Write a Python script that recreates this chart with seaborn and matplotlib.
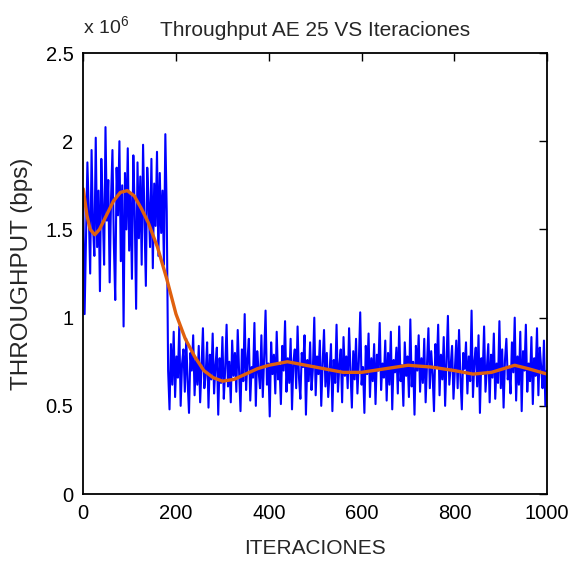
import matplotlib
matplotlib.use("Agg")
import matplotlib.pyplot as plt
import numpy as np
import pandas as pd
import seaborn as sns
from matplotlib.ticker import FuncFormatter

# throughput in units of 1e6 bps, one sample every 3 iterations
STEP = 3
blue_phase1 = [1.70, 1.02, 1.45, 1.88, 1.60, 1.25, 1.95, 1.52, 1.35, 2.02,
               1.40, 1.72, 1.15, 1.90, 1.62, 1.30, 2.08, 1.55, 1.78, 1.20,
               1.68, 1.95, 1.42, 1.10, 1.85, 1.58, 2.00, 1.32, 1.75, 0.95,
               1.82, 1.50, 1.96, 1.38, 1.70, 1.22, 1.92, 1.60, 1.05, 1.88,
               1.45, 1.80, 1.30, 1.98, 1.55, 1.18, 1.85, 1.65, 1.40, 1.90,
               1.28, 1.76, 1.52, 1.94, 1.35, 1.82, 1.48, 1.72, 1.30, 2.04,
               1.60]
blue_phase2 = [
    0.70, 0.48, 0.85, 0.62, 0.92, 0.55, 0.78, 0.66, 0.95, 0.50, 0.74, 0.82, 0.58,
    0.88, 0.64, 0.46, 0.80, 0.70, 0.90, 0.56, 0.76, 0.62, 0.84, 0.52, 0.72, 0.94,
    0.60, 0.68, 0.86, 0.49, 0.79, 0.65, 0.91, 0.57, 0.73, 0.83, 0.45, 0.77, 0.63,
    0.89, 0.54, 0.71, 0.96, 0.61, 0.75, 0.52, 0.87, 0.67, 0.80, 0.58, 0.93, 0.69,
    0.47, 0.82, 0.64, 1.02, 0.59, 0.76, 0.88, 0.53, 0.72, 0.66, 0.97, 0.50, 0.81,
    0.70, 0.60, 0.90, 0.55, 0.78, 1.04, 0.62, 0.74, 0.44, 0.86, 0.68, 0.79, 0.57,
    0.92, 0.65, 0.73, 0.51, 0.84, 0.70, 0.98, 0.58, 0.77, 0.63, 0.88, 0.48, 0.75,
    0.82, 0.60, 0.95, 0.66, 0.54, 0.80, 0.72, 0.90, 0.45, 0.76, 0.64, 0.86, 0.59,
    0.71, 1.00, 0.56, 0.78, 0.68, 0.87, 0.50, 0.74, 0.93, 0.61, 0.80, 0.55, 0.69,
    0.85, 0.47, 0.76, 0.63, 0.96, 0.58, 0.73, 0.82, 0.52, 0.89, 0.67, 0.78, 0.60,
    0.94, 0.70, 0.49, 0.81, 0.65, 0.88, 0.57, 0.75, 1.03, 0.62, 0.72, 0.46, 0.84,
    0.68, 0.91, 0.55, 0.77, 0.64, 0.85, 0.51, 0.79, 0.70, 0.97, 0.59, 0.74, 0.66,
    0.87, 0.53, 0.80, 0.62, 0.92, 0.48, 0.76, 0.69, 0.83, 0.57, 0.95, 0.64, 0.73,
    0.50, 0.86, 0.67, 0.78, 0.55, 0.99, 0.61, 0.75, 0.45, 0.84, 0.70, 0.90, 0.58,
    0.77, 0.63, 0.88, 0.52, 0.74, 0.94, 0.60, 0.81, 0.68, 0.47, 0.85, 0.72, 0.96,
    0.56, 0.79, 0.65, 0.89, 0.50, 0.76, 1.01, 0.62, 0.73, 0.84, 0.54, 0.70, 0.87,
    0.60, 0.93, 0.66, 0.48, 0.80, 0.71, 0.86, 0.57, 0.78, 0.64, 1.04, 0.55, 0.75,
    0.83, 0.61, 0.90, 0.46, 0.77, 0.68, 0.95, 0.58, 0.72, 0.85, 0.52, 0.79, 0.66,
    0.91, 0.54, 0.74, 0.63, 0.98, 0.60, 0.82, 0.49, 0.76, 0.88, 0.65, 0.71, 0.57,
    0.86, 0.69, 1.00, 0.53, 0.78, 0.62, 0.92, 0.47, 0.81, 0.70, 0.96, 0.58, 0.74,
    0.64, 0.89, 0.51, 0.77, 0.67, 0.94, 0.56, 0.83, 0.72, 0.60, 0.87, 0.50, 0.70,
]

# smoothed trend (orange)
trend_x = [0, 8, 15, 25, 35, 50, 65, 80, 95, 110, 125, 140, 160, 180, 200,
           220, 240, 260, 280, 300, 325, 350, 375, 400, 440, 480, 520, 560,
           600, 650, 700, 750, 800, 840, 880, 930, 960, 1000]
trend_y = [1.73, 1.58, 1.50, 1.47, 1.50, 1.58, 1.66, 1.71, 1.72, 1.69, 1.62,
           1.54, 1.40, 1.22, 1.02, 0.88, 0.78, 0.70, 0.66, 0.64, 0.65, 0.68,
           0.71, 0.73, 0.75, 0.73, 0.71, 0.69, 0.69, 0.71, 0.73, 0.72, 0.70,
           0.68, 0.69, 0.73, 0.71, 0.68]

blue_vals = blue_phase1 + blue_phase2
raw = pd.DataFrame({"it": np.arange(len(blue_vals)) * STEP,
                    "bps": np.array(blue_vals) * 1e6})
trend = pd.DataFrame({"it": trend_x, "bps": np.array(trend_y) * 1e6})

sns.set_style("white")
plt.rcParams["font.family"] = ["Liberation Sans", "DejaVu Sans"]
plt.rcParams["mathtext.fontset"] = "custom"
plt.rcParams["mathtext.rm"] = "Liberation Sans"
plt.rcParams["mathtext.it"] = "Liberation Sans"

fig = plt.figure(figsize=(5.7, 5.64), dpi=100)
ax = fig.add_axes([0.146, 0.124, 0.814, 0.782])

sns.lineplot(data=raw, x="it", y="bps", color="#0000FF", linewidth=1.5, ax=ax)
sns.lineplot(data=trend, x="it", y="bps", color="#E0600E", linewidth=2.4, ax=ax)

ax.set_xlim(0, 1000)
ax.set_ylim(0, 2.5e6)
ax.set_xticks([0, 200, 400, 600, 800, 1000])
ax.set_yticks([0, 0.5e6, 1e6, 1.5e6, 2e6, 2.5e6])
ax.yaxis.set_major_formatter(FuncFormatter(lambda v, p: "%g" % (v / 1e6)))
ax.tick_params(direction="in", top=True, right=True, length=6, width=1,
               labelsize=14.5, colors="black", pad=7)
for s in ax.spines.values():
    s.set_color("black")
    s.set_linewidth(1.3)

ax.set_xlabel("ITERACIONES", fontsize=15, labelpad=12)
ax.set_ylabel("THROUGHPUT (bps)", fontsize=17.5, labelpad=9)
ax.set_title("Throughput AE 25 VS Iteraciones", fontsize=15, pad=12)
fig.text(0.146, 0.935, r"x 10$^{6}$", fontsize=14, ha="left", va="bottom")

fig.savefig("out.png", dpi=100)
